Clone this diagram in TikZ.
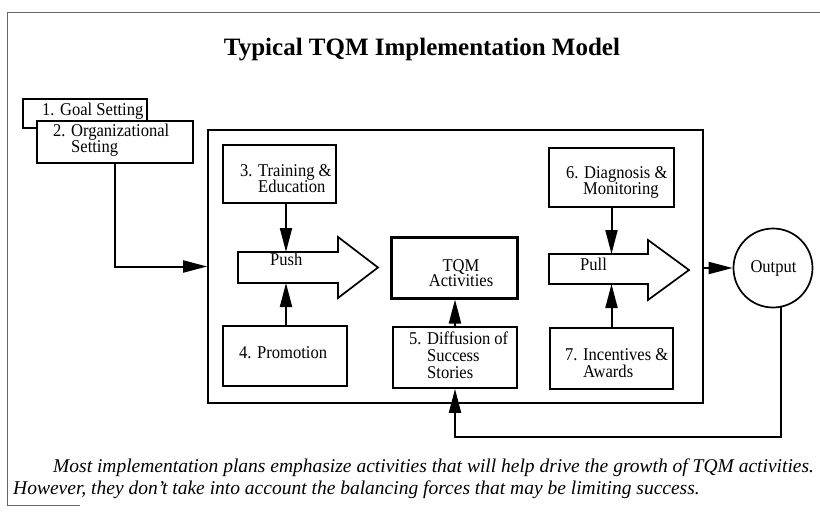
\documentclass[tikz,border=0pt]{standalone}
\usepackage{fontspec}
\setmainfont{Liberation Serif}
\newfontfamily\boxfont[FakeStretch=0.92]{Liberation Serif}
\usetikzlibrary{arrows.meta}
\tikzset{
  box/.style={draw, line width=1.7pt, fill=white, inner sep=0pt},
  txt/.style={anchor=base west, inner sep=0pt, text height=12pt, text depth=2.5pt, font={\fontsize{18}{18}\selectfont\boxfont}},
  ctxt/.style={anchor=base, inner sep=0pt, text height=12pt, text depth=2.5pt, font={\fontsize{18}{18}\selectfont\boxfont}},
  captext/.style={anchor=base west, inner sep=0pt, font={\fontsize{19.5}{20}\selectfont\itshape}},
  conn/.style={line width=2pt, -{Triangle[length=24pt,width=12pt]}},
  bigarrow/.style={draw, line width=1.7pt, fill=white},
  frameline/.style={draw=black!60, line width=1pt}
}
\begin{document}
\begin{tikzpicture}[x=1pt,y=-1pt]
\useasboundingbox (0,0) rectangle (820,514);
% frame
\draw[frameline] (7,505) -- (7,12) -- (820,12);
\draw[frameline] (7,505) -- (80,505);
% title
\node[font=\fontsize{25}{28}\selectfont\bfseries] (title) at (422,50) {Typical TQM Implementation Model};
% left boxes
\node[box, minimum width=124pt, minimum height=29pt] (box1) at (85,113.5) {};
\node[txt] (t1) at (42,115) {1. Goal Setting};
\node[box, minimum width=156pt, minimum height=42pt] (box2) at (115,142) {};
\node[txt] (t2a) at (53,136) {2. Organizational};
\node[txt] (t2b) at (71,152) {Setting};
% big box
\node[draw, line width=1.7pt, minimum width=495pt, minimum height=273pt, inner sep=0pt] (big) at (455.5,266.5) {};
% inner boxes
\node[box, minimum width=113pt, minimum height=58pt] (box3) at (279.5,174) {};
\node[txt] (t3a) at (240,176) {3. Training \&};
\node[txt] (t3b) at (258,192) {Education};
\node[box, minimum width=124pt, minimum height=60pt] (box4) at (285,356) {};
\node[txt] (t4) at (239,358) {4. Promotion};
\node[draw, line width=3pt, minimum width=126pt, minimum height=61pt, inner sep=0pt] (tqm) at (454,267.5) {};
\node[ctxt] (tqma) at (461,271) {TQM};
\node[ctxt] (tqmb) at (461,286) {Activities};
\node[box, minimum width=124pt, minimum height=61pt] (box5) at (455,357.5) {};
\node[txt] (t5a) at (409,344) {5. Diffusion of};
\node[txt] (t5b) at (427,361) {Success};
\node[txt] (t5c) at (427,378) {Stories};
\node[box, minimum width=125pt, minimum height=59pt] (box6) at (611.5,177.5) {};
\node[txt] (t6a) at (566,178) {6. Diagnosis \&};
\node[txt] (t6b) at (583,194) {Monitoring};
\node[box, minimum width=123pt, minimum height=61pt] (box7) at (611.5,358.5) {};
\node[txt] (t7a) at (565,360) {7. Incentives \&};
\node[txt] (t7b) at (583,377) {Awards};
% push / pull arrows
\draw[bigarrow] (238,252) -- (338,252) -- (338,237) -- (378,267.5) -- (338,298) -- (338,283) -- (238,283) -- cycle;
\node[txt] (push) at (270,265) {Push};
\coordinate (pushtop) at (286,252);
\coordinate (pushbot) at (286,283);
\draw[bigarrow] (549,254) -- (648,254) -- (648,240) -- (689,270) -- (648,300) -- (648,284) -- (549,284) -- cycle;
\node[txt] (pull) at (580,270) {Pull};
\coordinate (pulltop) at (611.5,254);
\coordinate (pullbot) at (611.5,284);
% output
\node[draw, circle, line width=1.7pt, minimum size=79pt, inner sep=0pt] (out) at (773,268) {};
\node[ctxt] (outt) at (773.5,272) {Output};
% connectors
\draw[conn] (box2.south) |- (big.west);
\draw[conn] (box3.south -| pushtop) -- (pushtop);
\draw[conn] (box4.north -| pushbot) -- (pushbot);
\draw[conn] (box5.north) -- (box5.north |- tqm.south);
\draw[conn] (box6.south) -- (pulltop);
\draw[conn] (box7.north) -- (pullbot);
\draw[conn] (big.east |- out.west) -- (out.west);
\coordinate (fbcorner) at (781,437);
\coordinate (fbleft) at (455,437);
\draw[conn] (out.-78) -- (out.-78 |- fbcorner) -- (fbleft) -- (box5.south);
% caption
\node[captext] (cap1) at (53,472) {Most implementation plans emphasize activities that will help drive the growth of TQM activities.};
\node[captext] (cap2) at (13,494) {However, they don't take into account the balancing forces that may be limiting success.};
\end{tikzpicture}
\end{document}
